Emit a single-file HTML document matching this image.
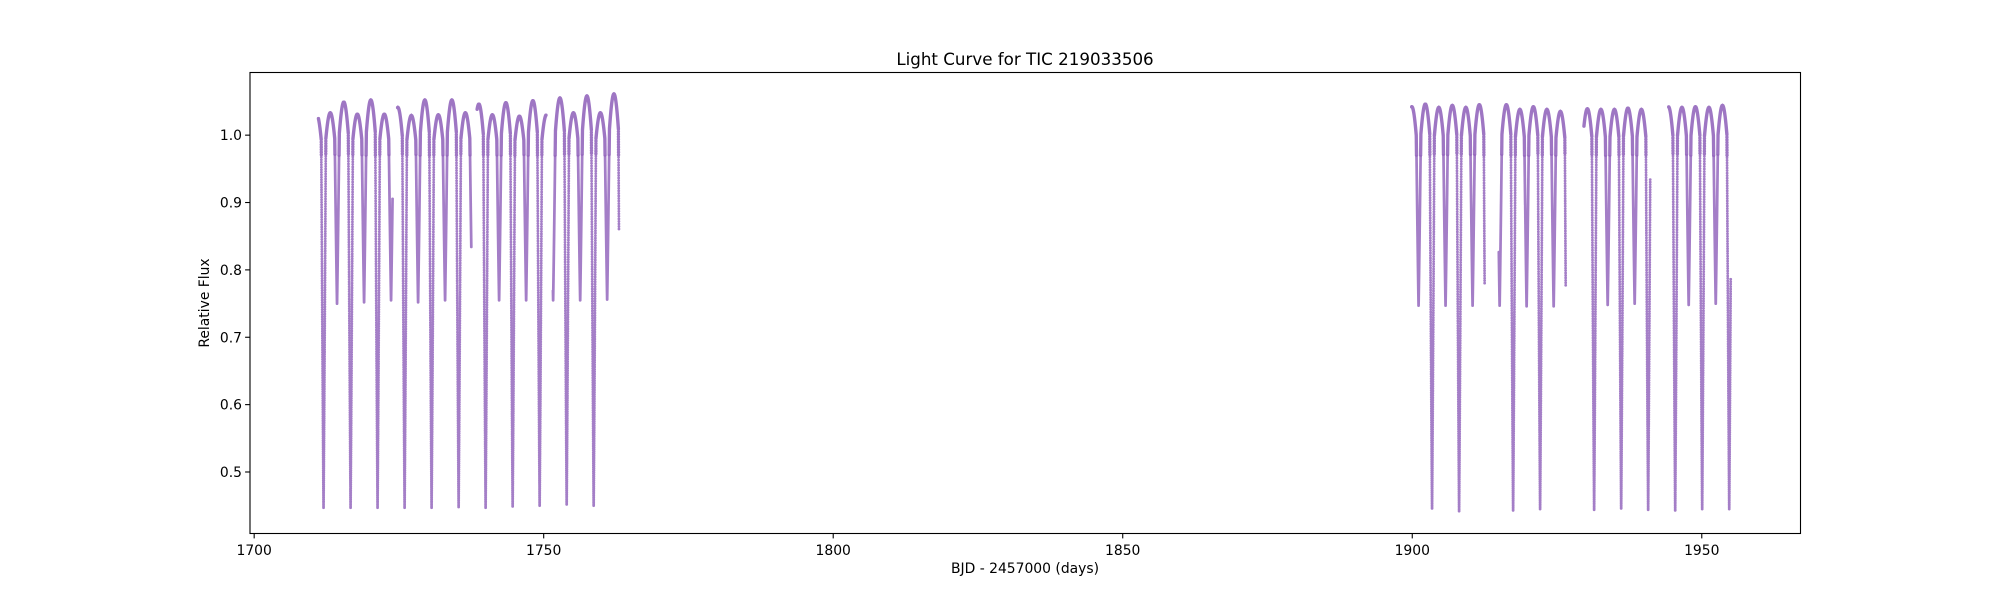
<!DOCTYPE html>
<html><head><meta charset="utf-8"><style>
html,body{margin:0;padding:0;background:#fff;}
svg{display:block;font-family:"DejaVu Sans","Liberation Sans",sans-serif;}
</style></head><body>
<svg id="chart" width="2000" height="600" viewBox="0 0 2000 600">
<rect x="0" y="0" width="2000" height="600" fill="#fff"/>
<text x="1025" y="65" font-size="16.7" text-anchor="middle" fill="#000">Light Curve for TIC 219033506</text>
<g id="plot"></g>
<g id="xaxis"></g>
<g id="yaxis"></g>
<rect x="250" y="72.5" width="1550.5" height="461" fill="none" stroke="#000" stroke-width="1.1"/>
<text x="1025" y="573" font-size="13.9" text-anchor="middle" fill="#000">BJD - 2457000 (days)</text>
<text x="0" y="0" font-size="13.9" text-anchor="middle" fill="#000" transform="translate(209,303) rotate(-90)">Relative Flux</text>
</svg>
<script>
// ---- data ----
const segStart = [1711.1, 1724.77, 1738.5, 1751.6, 1899.9, 1914.95, 1929.65, 1944.29];
const segEnd   = [1723.9, 1737.5, 1750.4, 1763.0, 1912.5, 1926.5, 1941.1, 1955.0];
const eclipseTimes = [1709.65,1711.98,1714.31,1716.65,1718.98,1721.31,1723.64,1725.98,1728.31,1730.64,1732.97,1735.31,1737.64,1739.97,1742.30,1744.64,1746.97,1749.30,1751.63,1753.97,1756.30,1758.63,1760.96,1763.30,
  1898.76,1901.09,1903.42,1905.75,1908.09,1910.42,1912.75,1915.09,1917.42,1919.75,1922.08,1924.42,1926.75,1929.08,1931.41,1933.75,1936.08,1938.41,1940.74,1943.08,1945.41,1947.74,1950.07,1952.41,1954.74,1957.07];
const eclipseDepths = [0.752,0.447,0.750,0.447,0.752,0.447,0.755,0.447,0.752,0.447,0.755,0.448,0.758,0.447,0.755,0.449,0.755,0.450,0.755,0.452,0.755,0.450,0.756,0.448,
  0.445,0.747,0.446,0.747,0.442,0.747,0.445,0.747,0.443,0.746,0.445,0.746,0.445,0.750,0.444,0.748,0.446,0.750,0.444,0.748,0.443,0.748,0.445,0.750,0.445,0.748];
const humpPeaks = [1.030,1.033,1.049,1.031,1.052,1.031,1.041,1.029,1.052,1.030,1.052,1.033,1.046,1.030,1.048,1.028,1.051,1.030,1.055,1.033,1.058,1.033,1.061,
  1.000,
  1.042,1.046,1.041,1.044,1.041,1.045,1.040,1.045,1.038,1.042,1.038,1.035,1.040,1.039,1.038,1.038,1.040,1.038,1.040,1.042,1.041,1.042,1.041,1.044,1.040];
const xTicks = [1700, 1750, 1800, 1850, 1900, 1950];
const yTicks = [0.5, 0.6, 0.7, 0.8, 0.9, 1.0];

// ---- axis functions ----
const X0 = 250, X1 = 1800.5, Y0 = 533.5, Y1 = 72.5;
const xMin = 1699.28, xMax = 1967.05, yMin = 0.4087, yMax = 1.093;
const xs = v => X0 + (v - xMin) / (xMax - xMin) * (X1 - X0);
const ys = v => Y0 - (v - yMin) / (yMax - yMin) * (Y0 - Y1);

const NS = "http://www.w3.org/2000/svg";
const xg = document.getElementById('xaxis');
xTicks.forEach(t => {
  const l = document.createElementNS(NS, 'line');
  l.setAttribute('x1', xs(t)); l.setAttribute('x2', xs(t));
  l.setAttribute('y1', Y0); l.setAttribute('y2', Y0 + 4.9);
  l.setAttribute('stroke', '#000'); l.setAttribute('stroke-width', '1.1');
  
  
  xg.appendChild(l);
  const tx = document.createElementNS(NS, 'text');
  tx.setAttribute('x', xs(t)); tx.setAttribute('y', 555);
  tx.setAttribute('font-size', '13.9'); tx.setAttribute('text-anchor', 'middle');
  tx.textContent = String(t);
  
  
  xg.appendChild(tx);
});
const yg = document.getElementById('yaxis');
yTicks.forEach(t => {
  const l = document.createElementNS(NS, 'line');
  l.setAttribute('x1', X0 - 4.9); l.setAttribute('x2', X0);
  l.setAttribute('y1', ys(t)); l.setAttribute('y2', ys(t));
  l.setAttribute('stroke', '#000'); l.setAttribute('stroke-width', '1.1');
  
  
  yg.appendChild(l);
  const tx = document.createElementNS(NS, 'text');
  tx.setAttribute('x', X0 - 8); tx.setAttribute('y', ys(t) + 5);
  tx.setAttribute('font-size', '13.9'); tx.setAttribute('text-anchor', 'end');
  tx.textContent = t.toFixed(1);
  
  
  yg.appendChild(tx);
});

// ---- light curve model built from the arrays ----
const LO = 0.955, HW = 0.4;
function intervalOf(t) {
  let i = 0;
  while (i < eclipseTimes.length - 2 && eclipseTimes[i + 1] <= t) i++;
  return i;
}
function base(t, i) {
  const a = eclipseTimes[i], b = eclipseTimes[i + 1];
  const u = Math.min(1, Math.max(0, (t - a) / (b - a)));
  return LO + (humpPeaks[i] - LO) * Math.sin(Math.PI * u);
}
function flux(t) {
  const i = intervalOf(t);
  const a = eclipseTimes[i], b = eclipseTimes[i + 1];
  let f = base(t, i);
  let inEcl = false;
  const k = (t - a) < (b - t) ? i : i + 1;
  const te = eclipseTimes[k];
  const dt = Math.abs(t - te);
  if (dt < HW) {
    const d = eclipseDepths[k];
    const edge = base(te + (t >= te ? HW : -HW), i);
    f = d + (edge - d) * Math.pow(dt / HW, 1.1);
    inEcl = f < 0.97;
  }
  return [f, inEcl];
}
let arcPath = '', eclPath = '';
for (let s = 0; s < segStart.length; s++) {
  for (let t = segStart[s]; t <= segEnd[s]; t += 0.0025) {
    const r = flux(t);
    const seg = 'M' + xs(t).toFixed(2) + ' ' + ys(r[0]).toFixed(2) + 'h0.01';
    if (r[1]) eclPath += seg; else arcPath += seg;
  }
}
const p = document.createElementNS(NS, 'path');
p.setAttribute('d', arcPath);
p.setAttribute('stroke', '#9467bd');
p.setAttribute('stroke-opacity', '0.9');
p.setAttribute('stroke-width', '3.4');
p.setAttribute('stroke-linecap', 'round');
p.setAttribute('fill', 'none');


document.getElementById('plot').appendChild(p);
const q = document.createElementNS(NS, 'path');
q.setAttribute('d', eclPath);
q.setAttribute('stroke', '#9467bd');
q.setAttribute('stroke-opacity', '0.85');
q.setAttribute('stroke-width', '2.8');
q.setAttribute('stroke-linecap', 'round');
q.setAttribute('fill', 'none');


document.getElementById('plot').appendChild(q);
</script>
</body></html>
